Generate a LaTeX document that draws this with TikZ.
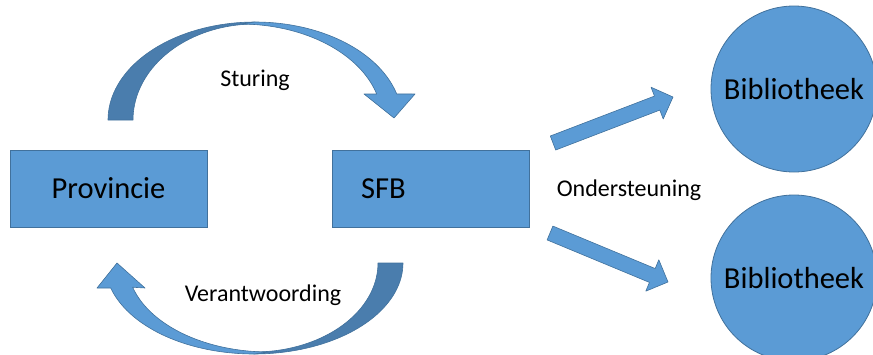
\documentclass[tikz,border=0pt]{standalone}
\usepackage{fontspec}
\setmainfont{Carlito}
\usetikzlibrary{calc}
\definecolor{boxblue}{HTML}{5B9BD5}
\definecolor{edgeblue}{HTML}{41719C}
\definecolor{darkblue}{HTML}{4A7DAD}
\tikzset{
 blockbox/.style={draw=edgeblue, fill=boxblue, line width=0.8pt, rectangle, minimum width=197pt, minimum height=77pt, inner sep=0pt, font=\fontsize{30.5}{36}\selectfont},
 libcircle/.style={circle, draw=edgeblue, fill=boxblue, line width=0.8pt, minimum size=166pt, inner sep=0pt, font=\fontsize{30.5}{36}\selectfont},
 lbl/.style={font=\fontsize{24}{29}\selectfont, inner sep=0pt},
 lightpart/.style={fill=boxblue, draw=edgeblue, line width=0.6pt, line join=round},
 darkpart/.style={fill=darkblue, draw=edgeblue, line width=0.6pt, line join=round},
}
\begin{document}
\begin{tikzpicture}[x=1pt,y=-1pt]
\path[use as bounding box] (0,0) rectangle (873,354);
\clip (0,0) rectangle (873,354);

% boxes
\node[blockbox] (prov) at (108.5,188.5) {Provincie};
\node[blockbox, text width=196pt, align=left] (sfb) at (431,188.5) {\hspace*{28pt}SFB};

% circles
\node[libcircle] (lib1) at (794,89) {Bibliotheek};
\node[libcircle] (lib2) at (794,278) {Bibliotheek};

% top curved arrow (Sturing)
\filldraw[darkpart] plot[domain=180:90,samples=40] ({255+147*cos(\x)},{120-98*sin(\x)})
  -- plot[domain=90:180,samples=40] ({255+122*cos(\x)},{120-96*sin(\x)}) -- cycle;
\filldraw[lightpart] plot[domain=90:15.4,samples=40] ({255+147*cos(\x)},{120-98*sin(\x)})
  -- (415,94) -- (394,118) -- (364,94)
  -- plot[domain=15.7:90,samples=40] ({240+142*cos(\x)},{120-96*sin(\x)}) -- cycle;

% bottom curved arrow (Verantwoording)
\filldraw[darkpart] plot[domain=0:90,samples=40] ({254+149*cos(\x)},{263+91*sin(\x)})
  -- plot[domain=90:0,samples=40] ({254+124*cos(\x)},{263+89*sin(\x)}) -- cycle;
\filldraw[lightpart] plot[domain=90:164.05,samples=40] ({254+149*cos(\x)},{263+91*sin(\x)})
  -- (97,288) -- (117,263) -- (145,288)
  -- plot[domain=164.2:90,samples=40] ({269+141.7*cos(\x)},{263+89*sin(\x)}) -- cycle;

% straight block arrows
\coordinate (ta) at (553,143); \coordinate (pa) at (673,97);
\coordinate (ba) at ($(pa)!17pt!(ta)$);
\filldraw[lightpart] ($(ta)!7.5pt!90:(pa)$) -- ($(ba)!7.5pt!90:(pa)$) -- ($(ba)!17pt!90:(pa)$)
  -- (pa) -- ($(ba)!17pt!-90:(pa)$) -- ($(ba)!7.5pt!-90:(pa)$) -- ($(ta)!7.5pt!-90:(pa)$) -- cycle;
\coordinate (tb) at (550,233); \coordinate (pb) at (668,282);
\coordinate (bb) at ($(pb)!17pt!(tb)$);
\filldraw[lightpart] ($(tb)!7.5pt!90:(pb)$) -- ($(bb)!7.5pt!90:(pb)$) -- ($(bb)!17pt!90:(pb)$)
  -- (pb) -- ($(bb)!17pt!-90:(pb)$) -- ($(bb)!7.5pt!-90:(pb)$) -- ($(tb)!7.5pt!-90:(pb)$) -- cycle;

% labels
\node[lbl] (sturing) at (255,80) {Sturing};
\node[lbl] (verant) at (263,295) {Verantwoording};
\node[lbl] (onder) at (629,190) {Ondersteuning};
\end{tikzpicture}
\end{document}
